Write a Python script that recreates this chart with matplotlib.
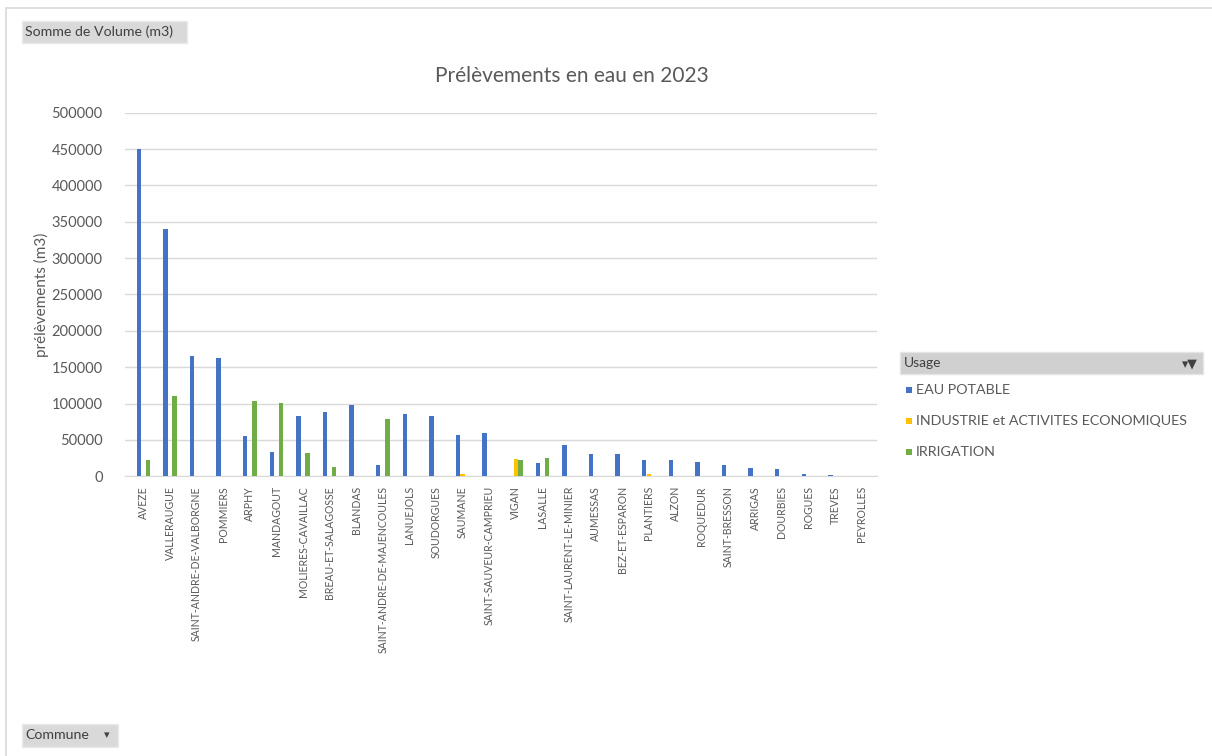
import numpy as np
import matplotlib.pyplot as plt
from matplotlib.patches import Rectangle

plt.rcParams['font.family'] = ['Lato', 'DejaVu Sans']

communes = ['AVEZE', 'VALLERAUGUE', 'SAINT-ANDRE-DE-VALBORGNE', 'POMMIERS', 'ARPHY',
            'MANDAGOUT', 'MOLIERES-CAVAILLAC', 'BREAU-ET-SALAGOSSE', 'BLANDAS',
            'SAINT-ANDRE-DE-MAJENCOULES', 'LANUEJOLS', 'SOUDORGUES', 'SAUMANE',
            'SAINT-SAUVEUR-CAMPRIEU', 'VIGAN', 'LASALLE', 'SAINT-LAURENT-LE-MINIER',
            'AUMESSAS', 'BEZ-ET-ESPARON', 'PLANTIERS', 'ALZON', 'ROQUEDUR',
            'SAINT-BRESSON', 'ARRIGAS', 'DOURBIES', 'ROGUES', 'TREVES', 'PEYROLLES']
eau_potable = [450000, 340000, 165000, 163000, 56000, 34000, 83000, 89000, 98000,
               15000, 86000, 83000, 57000, 59000, 0, 18000, 43000, 30000, 30000,
               23000, 23000, 20000, 15000, 12000, 10000, 3000, 1500, 1000]
industrie = [0, 0, 0, 0, 0, 0, 0, 0, 0, 0, 0, 0, 3000, 0, 24000, 0, 0, 0, 0,
             3000, 0, 0, 0, 0, 0, 0, 0, 0]
irrigation = [22000, 110000, 0, 0, 104000, 101000, 32000, 13000, 0, 79000, 0, 0,
              0, 0, 23000, 25000, 0, 0, 0, 0, 0, 0, 0, 0, 0, 0, 0, 0]
usages = ['EAU POTABLE', 'INDUSTRIE et ACTIVITES ECONOMIQUES', 'IRRIGATION']
colors = ['#4472C4', '#FFC000', '#70AD47']
grey = '#595959'

fig = plt.figure(figsize=(12.12, 7.56), dpi=100)
ax = fig.add_axes([0.103, 0.370, 0.621, 0.481])

x = np.arange(len(communes))
w = 0.165
for i, (vals, c) in enumerate(zip([eau_potable, industrie, irrigation], colors)):
    ax.bar(x + (i - 1) * w * 1.05, vals, width=w, color=c, zorder=3)

ax.set_xlim(-0.7, len(communes) - 0.4)
ax.set_ylim(0, 500000)
ax.set_yticks(np.arange(0, 500001, 50000))
ax.yaxis.grid(True, color='#D9D9D9', linewidth=1)
ax.set_axisbelow(True)
for s in ['top', 'right', 'left']:
    ax.spines[s].set_visible(False)
ax.spines['bottom'].set_color('#D9D9D9')
ax.tick_params(axis='both', length=0, colors=grey)
ax.tick_params(axis='y', pad=16, labelsize=10.5)
ax.tick_params(axis='x', pad=7, labelsize=7.6)
ax.set_xticks(x)
ax.set_xticklabels(communes, rotation=90)
ax.set_ylabel('prélèvements (m3)', color=grey, fontsize=11, labelpad=2)
fig.text(0.472, 0.900, 'Prélèvements en eau en 2023', ha='center', va='center',
         fontsize=15, color=grey)

# outer frame
fig.add_artist(Rectangle((0.005, -0.01), 1.0, 1.0 - 0.0106 + 0.01, transform=fig.transFigure,
                         fill=False, edgecolor='#D9D9D9', linewidth=1.2))

# pivot buttons
fig.add_artist(Rectangle((22 / 1212, 1 - 43 / 756), 165 / 1212, 22 / 756,
                         transform=fig.transFigure, facecolor='#D9D9D9', edgecolor='#EAEAEA'))
fig.text(25 / 1212, 1 - 32 / 756, 'Somme de Volume (m3)', fontsize=10.2, color='#404040', va='center')
fig.add_artist(Rectangle((22 / 1212, 1 - 747 / 756), 96 / 1212, 23 / 756,
                         transform=fig.transFigure, facecolor='#D9D9D9', edgecolor='#EAEAEA'))
fig.text(25 / 1212, 1 - 735 / 756, 'Commune', fontsize=10.2, color='#404040', va='center')
fig.text(104 / 1212, 1 - 735 / 756, '\u25BE', fontsize=8, color='#404040', va='center')

# legend
fig.add_artist(Rectangle((900 / 1212, 1 - 374 / 756), 303 / 1212, 22 / 756,
                         transform=fig.transFigure, facecolor='#D0D0D0', edgecolor='#E5E5E5'))
fig.text(904 / 1212, 1 - 363 / 756, 'Usage', fontsize=10, color='#404040', va='center')
fig.text(1198 / 1212, 1 - 363 / 756, '\u25BE\u25BC', fontsize=9, color='#404040', va='center', ha='right')
for i, (u, c) in enumerate(zip(usages, colors)):
    yy = 1 - (390 + 31 * i) / 756
    fig.add_artist(Rectangle((906 / 1212, yy - 3 / 756), 6 / 1212, 6 / 756,
                             transform=fig.transFigure, facecolor=c, edgecolor='none'))
    fig.text(916 / 1212, yy, u, fontsize=10.3, color=grey, va='center')

fig.savefig('out.png', dpi=100)
